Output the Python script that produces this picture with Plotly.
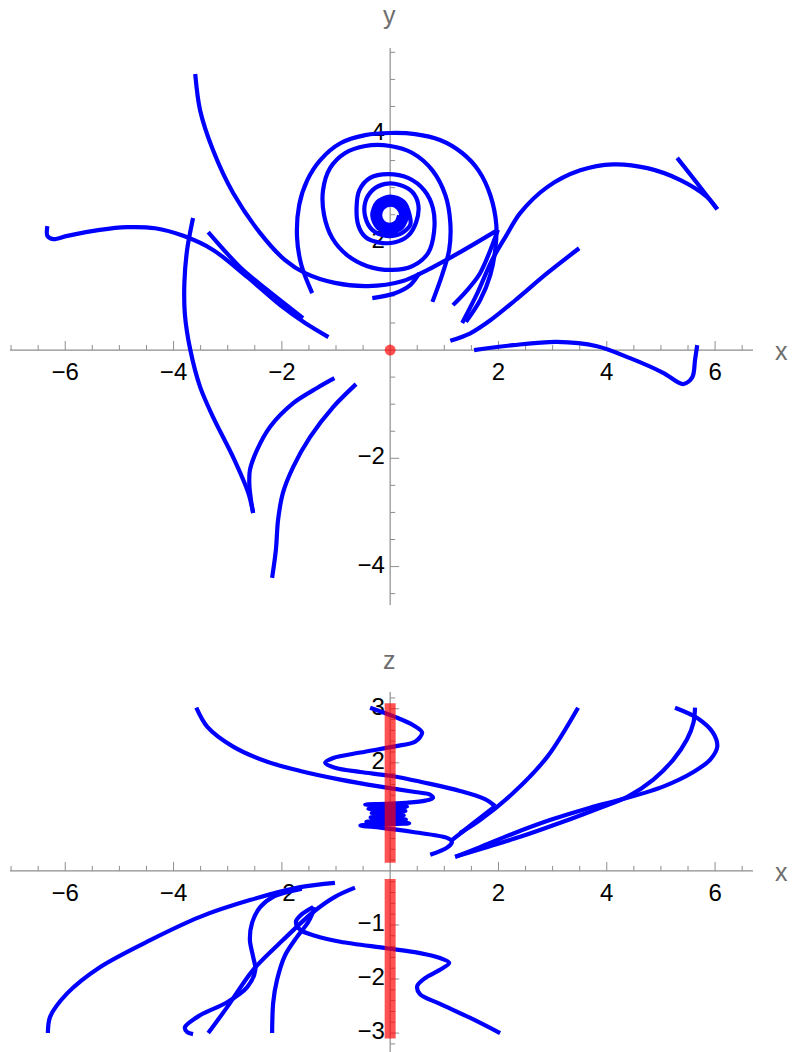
import numpy as np
import plotly.graph_objects as go

BLUE = "#0000FF"
RED = "rgba(255,0,0,0.68)"
AXIS = "#8e8e8e"
LABEL_FONT = "Liberation Sans, Arial, sans-serif"
LW = 4.2

# ---------------- x–y projection: trajectories ----------------
xy_a1_x = [-3.60, -3.51, -3.27, -2.90, -2.40, -1.94, -1.57, -1.02, -0.41, 0.22, 0.65, 1.26, 1.99]
xy_a1_y = [5.10, 4.43, 3.69, 2.90, 2.16, 1.66, 1.42, 1.24, 1.18, 1.27, 1.46, 1.79, 2.22]
xy_a2_x = [1.99, 1.66, 1.39, 1.16]
xy_a2_y = [2.22, 1.42, 1.07, 0.83]

xy_spiral_x = [0.78, 0.96, 1.09, 1.11, 1.02, 0.78, 0.41, 0.0, -0.46, -0.83, -1.11, -1.24, -1.22,
               -1.07, -0.79, -0.42, 0.04, 0.41, 0.70, 0.81, 0.79, 0.63, 0.33, -0.04, -0.37, -0.57,
               -0.62, -0.59, -0.46, -0.22, 0.09, 0.33, 0.48, 0.52, 0.41, 0.18, -0.09, -0.33, -0.46,
               -0.46, -0.33, -0.07, 0.18, 0.37,
               0.36, 0.25, 0.0, -0.24, -0.33, -0.23, 0.0, 0.22,
               0.31, 0.21, 0.0, -0.20, -0.275, -0.19, 0.0, 0.18,
               0.25, 0.17, 0.0, -0.16, -0.225, -0.155, 0.0, 0.15,
               0.205, 0.14, 0.0, -0.135, -0.185, -0.13, 0.0, 0.12, 0.165]
xy_spiral_y = [0.89, 1.39, 1.85, 2.36, 2.86, 3.32, 3.64, 3.77, 3.77, 3.64, 3.36, 2.95, 2.49,
               2.07, 1.75, 1.55, 1.48, 1.55, 1.79, 2.18, 2.62, 2.95, 3.18, 3.25, 3.18, 2.95,
               2.64, 2.31, 2.09, 1.99, 1.99, 2.11, 2.36, 2.68, 2.92, 3.05, 3.07, 2.95, 2.73,
               2.46, 2.22, 2.11, 2.14, 2.31,
               2.49, 2.74, 2.835, 2.73, 2.49, 2.26, 2.17, 2.27,
               2.49, 2.70, 2.78, 2.69, 2.49, 2.30, 2.23, 2.31,
               2.49, 2.66, 2.725, 2.65, 2.49, 2.335, 2.275, 2.34,
               2.49, 2.63, 2.685, 2.625, 2.49, 2.36, 2.315, 2.37, 2.49]

xy_arc_x = [-0.33, 0.09, 0.37, 0.54]
xy_arc_y = [0.96, 1.05, 1.20, 1.42]

xy_ring_x = [1.40, 1.66, 1.85, 1.94, 1.96, 1.85, 1.63, 1.33, 0.92, 0.46, 0.0, -0.46, -0.92,
             -1.29, -1.53, -1.68, -1.72, -1.64, -1.44]
xy_ring_y = [0.52, 0.92, 1.39, 1.85, 2.31, 2.86, 3.32, 3.64, 3.88, 3.99, 4.01, 3.97, 3.82,
             3.51, 3.14, 2.68, 2.09, 1.57, 1.05]

xy_s1_x = [1.33, 1.61, 1.88, 2.14, 2.40, 2.90, 3.51, 4.12, 4.75, 5.36, 5.85, 6.04]
xy_s1_y = [0.50, 1.05, 1.66, 2.11, 2.53, 3.01, 3.32, 3.43, 3.36, 3.14, 2.83, 2.60]
xy_s2_x = [6.04, 5.67, 5.30]
xy_s2_y = [2.60, 3.08, 3.55]

xy_d_x = [1.11, 1.48, 1.85, 2.31, 2.90, 3.49]
xy_d_y = [0.17, 0.31, 0.55, 0.92, 1.42, 1.88]

xy_e_x = [1.55, 2.27, 3.08, 3.82, 4.43, 5.04, 5.41, 5.58, 5.63, 5.67]
xy_e_y = [0.0, 0.09, 0.15, 0.07, -0.15, -0.42, -0.63, -0.50, -0.18, 0.09]

xy_l_x = [-6.33, -6.33, -6.22, -5.96, -5.36, -4.86, -4.34, -3.82, -3.27, -2.64, -2.03, -1.57, -1.14]
xy_l_y = [2.29, 2.11, 2.05, 2.11, 2.22, 2.27, 2.25, 2.11, 1.85, 1.35, 0.83, 0.50, 0.24]

xy_m_x = [-3.36, -2.77, -2.27, -1.61]
xy_m_y = [2.18, 1.53, 1.11, 0.59]

xy_c1_x = [-3.64, -3.75, -3.80, -3.79, -3.69, -3.51, -3.27, -2.90, -2.62, -2.53]
xy_c1_y = [2.44, 1.85, 1.24, 0.65, 0.0, -0.68, -1.24, -1.98, -2.64, -3.01]
xy_c2_x = [-2.53, -2.57, -2.60, -2.59, -2.46, -2.22, -1.79, -1.35, -1.03]
xy_c2_y = [-3.01, -2.77, -2.49, -2.22, -1.85, -1.42, -0.98, -0.70, -0.52]

xy_f_x = [-0.63, -1.05, -1.48, -1.79, -1.98, -2.07, -2.11, -2.18]
xy_f_y = [-0.63, -1.05, -1.61, -2.16, -2.64, -3.14, -3.69, -4.21]

# ---------------- x–z projection: trajectories ----------------
xz_spiral_x = [-3.58, -3.38, -2.90, -2.27, -1.66, -0.92, -0.18, 0.46, 0.74, 0.79, 0.65, 0.28, -0.09,
               -0.46, 0.31, -0.40, 0.28, -0.34, 0.25, -0.36, 0.29, -0.44, 0.35, -0.55,
               -0.18, 0.42, 1.05, 1.14, 1.05, 0.74]
xz_spiral_z = [3.02, 2.67, 2.30, 2.02, 1.85, 1.69, 1.56, 1.46, 1.41, 1.35, 1.30, 1.26, 1.24,
               1.23, 1.19, 1.15, 1.11, 1.07, 1.03, 0.99, 0.95, 0.91, 0.88, 0.84,
               0.80, 0.72, 0.61, 0.54, 0.43, 0.30]

xz_s_x = [-0.37, 0.09, 0.42, 0.59, 0.46, 0.06, -0.55, -1.05, -1.20, -1.02, -0.55, 0.0, 0.74, 1.29, 1.75, 1.94]
xz_s_z = [3.02, 2.85, 2.70, 2.56, 2.39, 2.30, 2.19, 2.09, 2.00, 1.91, 1.83, 1.76, 1.61, 1.48, 1.33, 1.20]
xz_s2_x = [1.94, 1.66, 1.33, 1.14]
xz_s2_z = [1.20, 0.98, 0.72, 0.57]

xz_b2_x = [3.47, 2.90, 2.27, 1.66, 1.29]
xz_b2_z = [3.02, 2.11, 1.44, 0.94, 0.70]

xz_r2_x = [5.26, 5.67, 5.96, 6.04, 5.91, 5.60, 5.04, 4.30, 3.69, 2.95, 2.22, 1.66, 1.20]
xz_r2_z = [3.02, 2.83, 2.56, 2.30, 2.06, 1.83, 1.56, 1.33, 1.17, 0.94, 0.67, 0.44, 0.26]

xz_r3_x = [5.63, 5.60, 5.48, 5.23, 4.86, 4.38, 3.88, 3.14, 2.40, 1.75, 1.20]
xz_r3_z = [3.02, 2.74, 2.43, 2.06, 1.69, 1.37, 1.17, 0.89, 0.63, 0.43, 0.26]

xz_n1_x = [-6.32, -6.28, -5.96, -5.36, -4.43, -3.51, -2.59, -1.66, -1.02]
xz_n1_z = [-3.0, -2.70, -2.26, -1.78, -1.28, -0.85, -0.54, -0.30, -0.22]

xz_n2_x = [-1.63, -2.16, -2.40, -2.55, -2.59, -2.53, -2.49, -2.64, -3.01, -3.51, -3.79, -3.75, -3.64]
xz_n2_z = [-0.33, -0.48, -0.67, -0.96, -1.28, -1.59, -1.83, -2.15, -2.43, -2.67, -2.89, -2.98, -3.02]

xz_n3_x = [-3.36, -3.01, -2.53, -1.98, -1.42, -1.02, -0.65]
xz_n3_z = [-3.0, -2.52, -1.83, -1.28, -0.76, -0.48, -0.31]

xz_n4_x = [-2.18, -2.16, -2.09, -1.94, -1.72, -1.51, -1.39]
xz_n4_z = [-3.0, -2.44, -2.02, -1.56, -1.22, -0.94, -0.67]

xz_h_x = [-1.42, -1.63, -1.74, -1.66, -1.39, -0.92, -0.06, 0.55, 0.92, 1.09, 0.92, 0.65, 0.50,
          0.55, 0.92, 1.48, 2.03]
xz_h_z = [-0.67, -0.80, -0.94, -1.09, -1.20, -1.31, -1.43, -1.52, -1.61, -1.70, -1.83, -1.98, -2.13,
          -2.28, -2.46, -2.72, -3.0]

# equilibrium set: origin in the x–y view, the z-axis (split at 0) in the x–z view
eq_point = (0.0, 0.0)
eq_z_upper = [0.15, 3.1]
eq_z_lower = [-3.1, -0.15]

# ---------------- axes ----------------
x_range = [-7.02, 6.70]
y_range = [-4.71, 5.58]
z_range = [-3.35, 3.31]

x_major = [-6, -4, -2, 2, 4, 6]
x_labels = ["\u22126", "\u22124", "\u22122", "2", "4", "6"]
y_major = [-4, -2, 2, 4]
y_labels = ["\u22124", "\u22122", "2", "4"]
z_major = [-3, -2, -1, 1, 2, 3]
z_labels = ["\u22123", "\u22122", "\u22121", "1", "2", "3"]

x_minor = [round(v, 2) for v in np.arange(-7.0, 6.51, 0.5)]
x_minor = [v for v in x_minor if abs(v) > 1e-6 and v not in x_major]
y_minor = [round(v, 2) for v in np.arange(-4.5, 5.51, 0.5)]
y_minor = [v for v in y_minor if abs(v) > 1e-6 and v not in y_major]
z_minor = [round(v, 2) for v in np.arange(-3.2, 3.21, 0.2)]
z_minor = [v for v in z_minor if abs(v) > 1e-6 and v not in z_major]

PX = 54.15  # pixels per data unit
MAJ = 9 / PX
MIN = 5 / PX
TICK_FONT = dict(family=LABEL_FONT, size=24, color="black")

fig = go.Figure()


def add_line(x, y, xa, ya, color=AXIS, width=1.2):
    fig.add_trace(go.Scatter(x=x, y=y, xaxis=xa, yaxis=ya, mode="lines",
                             line=dict(color=color, width=width), hoverinfo="skip"))


def h_ticks(vals, length):
    xs, ys = [], []
    for v in vals:
        xs += [v, v, None]
        ys += [0, length, None]
    return xs, ys


def v_ticks(vals, length):
    xs, ys = [], []
    for v in vals:
        xs += [0, length, None]
        ys += [v, v, None]
    return xs, ys


def draw_axes(xa, ya, yr, ymaj, ymin, ylab, xlab_off):
    add_line(x_range, [0, 0], xa, ya)
    add_line([0, 0], yr, xa, ya)
    for vals, ln in ((x_major, MAJ), (x_minor, MIN)):
        tx, ty = h_ticks(vals, ln)
        add_line(tx, ty, xa, ya, width=1)
    for vals, ln in ((ymaj, MAJ), (ymin, MIN)):
        tx, ty = v_ticks(vals, ln)
        add_line(tx, ty, xa, ya, width=1)
    fig.add_trace(go.Scatter(x=x_major, y=[-xlab_off] * len(x_major), xaxis=xa, yaxis=ya,
                             mode="text", text=x_labels, textposition="middle center",
                             textfont=TICK_FONT, hoverinfo="skip"))
    fig.add_trace(go.Scatter(x=[-0.10] * len(ymaj), y=ymaj, xaxis=xa, yaxis=ya,
                             mode="text", text=ylab, textposition="middle left",
                             textfont=TICK_FONT, hoverinfo="skip"))


draw_axes("x", "y", y_range, y_major, y_minor, y_labels, 0.45)
draw_axes("x2", "y2", z_range, z_major, z_minor, z_labels, 0.44)


def curve(x, y, xa, ya):
    fig.add_trace(go.Scatter(x=x, y=y, xaxis=xa, yaxis=ya, mode="lines",
                             line=dict(color=BLUE, width=LW, shape="spline", smoothing=0.9),
                             hoverinfo="skip"))


for cx, cy in [(xy_a1_x, xy_a1_y), (xy_a2_x, xy_a2_y), (xy_spiral_x, xy_spiral_y),
               (xy_arc_x, xy_arc_y), (xy_ring_x, xy_ring_y), (xy_s1_x, xy_s1_y),
               (xy_s2_x, xy_s2_y), (xy_d_x, xy_d_y), (xy_e_x, xy_e_y), (xy_l_x, xy_l_y),
               (xy_m_x, xy_m_y), (xy_c1_x, xy_c1_y), (xy_c2_x, xy_c2_y), (xy_f_x, xy_f_y)]:
    curve(cx, cy, "x", "y")

for cx, cz in [(xz_spiral_x, xz_spiral_z), (xz_s_x, xz_s_z), (xz_s2_x, xz_s2_z),
               (xz_b2_x, xz_b2_z), (xz_r2_x, xz_r2_z), (xz_r3_x, xz_r3_z),
               (xz_n1_x, xz_n1_z), (xz_n2_x, xz_n2_z), (xz_n3_x, xz_n3_z),
               (xz_n4_x, xz_n4_z), (xz_h_x, xz_h_z)]:
    curve(cx, cz, "x2", "y2")

# equilibria
fig.add_trace(go.Scatter(x=[eq_point[0]], y=[eq_point[1]], xaxis="x", yaxis="y", mode="markers",
                         marker=dict(color=RED, size=11, line=dict(width=0)), hoverinfo="skip"))
for seg in (eq_z_upper, eq_z_lower):
    fig.add_trace(go.Scatter(x=[0, 0], y=seg, xaxis="x2", yaxis="y2", mode="lines",
                             line=dict(color=RED, width=11), hoverinfo="skip"))

W, H = 793, 1052
xdom = [10 / W, 753 / W]
fig.update_layout(
    width=W, height=H, margin=dict(l=0, r=0, t=0, b=0),
    paper_bgcolor="white", plot_bgcolor="white", showlegend=False,
    xaxis=dict(domain=xdom, range=x_range, visible=False, anchor="y"),
    yaxis=dict(domain=[1 - 605 / H, 1 - 48 / H], range=y_range, visible=False, anchor="x"),
    xaxis2=dict(domain=xdom, range=x_range, visible=False, anchor="y2"),
    yaxis2=dict(domain=[0, 1 - 692 / H], range=z_range, visible=False, anchor="x2"),
)

axis_font = dict(family=LABEL_FONT, size=25, color="#6e6e6e")
for txt, px, py in [("y", 389, 15), ("x", 781, 351), ("z", 389, 660), ("x", 781, 872)]:
    fig.add_annotation(text=txt, x=px / W, y=1 - py / H, xref="paper", yref="paper",
                       showarrow=False, xanchor="center", yanchor="middle", font=axis_font)

fig.write_html("out.html")
